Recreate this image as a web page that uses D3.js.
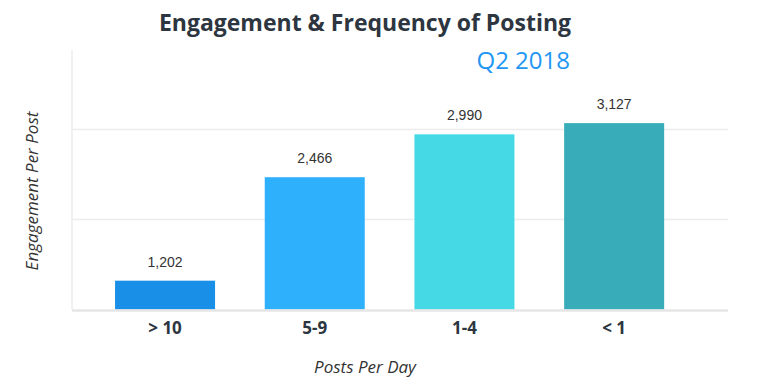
<!DOCTYPE html>
<html>
<head>
<meta charset="utf-8">
<script src="https://cdn.jsdelivr.net/npm/d3@7"></script>
<style>
  body { margin: 0; background: #fff; }
  svg text { font-family: "Open Sans", sans-serif; }
</style>
</head>
<body>
<div id="chart"></div>
<script>
const categories = ["> 10", "5-9", "1-4", "< 1"];
const values = [1202, 2466, 2990, 3127];
const colors = ["#1a8fe8", "#2fb0fd", "#45d9e6", "#38adb9"];
const gridValues = [1950, 3050];

const W = 762, H = 389;
const mar = {top: 50, right: 34, bottom: 79.5, left: 72};

const svg = d3.select("#chart").append("svg")
    .attr("width", W)
    .attr("height", H);

const x = d3.scaleBand()
    .domain(categories)
    .range([mar.left + 17.6, mar.left + 617.6])
    .paddingInner(0.332)
    .paddingOuter(0.17);

const y = d3.scaleLinear()
    .domain([850, 4020])
    .range([H - mar.bottom, mar.top]);

// gridlines
svg.append("g")
    .selectAll("line")
    .data(gridValues)
    .join("line")
    .attr("x1", mar.left)
    .attr("x2", W - mar.right)
    .attr("y1", d => y(d))
    .attr("y2", d => y(d))
    .attr("stroke", "#ececec")
    .attr("stroke-width", 1.5);

// left axis line
svg.append("line")
    .attr("x1", mar.left).attr("x2", mar.left)
    .attr("y1", mar.top).attr("y2", y(850))
    .attr("stroke", "#ececec")
    .attr("stroke-width", 1.5);

// bars
svg.append("g")
    .selectAll("rect")
    .data(values)
    .join("rect")
    .attr("x", (d, i) => x(categories[i]))
    .attr("width", x.bandwidth())
    .attr("y", d => y(d))
    .attr("height", d => y(850) - y(d))
    .attr("fill", (d, i) => colors[i]);

// baseline
svg.append("line")
    .attr("x1", mar.left).attr("x2", W - mar.right)
    .attr("y1", y(850) + 1).attr("y2", y(850) + 1)
    .attr("stroke", "#e6e6e6")
    .attr("stroke-width", 2.5);

// value labels
svg.append("g")
    .selectAll("text")
    .data(values)
    .join("text")
    .attr("x", (d, i) => x(categories[i]) + x.bandwidth() / 2)
    .attr("y", d => y(d) - 14)
    .attr("text-anchor", "middle")
    .style("font-family", "'Liberation Sans', Arial, sans-serif")
    .style("font-size", "14px")
    .attr("fill", "#333")
    .text(d => d3.format(",")(d));

// category labels
svg.append("g")
    .selectAll("text")
    .data(categories)
    .join("text")
    .attr("x", d => x(d) + x.bandwidth() / 2)
    .attr("y", 334)
    .attr("text-anchor", "middle")
    .style("font-size", "17px")
    .style("font-weight", "bold")
    .attr("fill", "#2d3640")
    .text(d => d);

// title
svg.append("text")
    .attr("x", 365).attr("y", 31)
    .attr("text-anchor", "middle")
    .style("font-size", "23px")
    .style("font-weight", "bold")
    .attr("fill", "#2d3640")
    .text("Engagement & Frequency of Posting");

svg.append("text")
    .attr("x", 570).attr("y", 69)
    .attr("text-anchor", "end")
    .style("font-size", "24px")
    .attr("fill", "#2196f3")
    .text("Q2 2018");

// axis titles
svg.append("text")
    .attr("x", 365).attr("y", 373)
    .attr("text-anchor", "middle")
    .style("font-size", "17px")
    .style("font-style", "italic")
    .attr("fill", "#333")
    .text("Posts Per Day");

svg.append("text")
    .attr("transform", "translate(38,191) rotate(-90)")
    .attr("text-anchor", "middle")
    .style("font-size", "17px")
    .style("font-style", "italic")
    .attr("fill", "#333")
    .text("Engagement Per Post");
</script>
</body>
</html>
